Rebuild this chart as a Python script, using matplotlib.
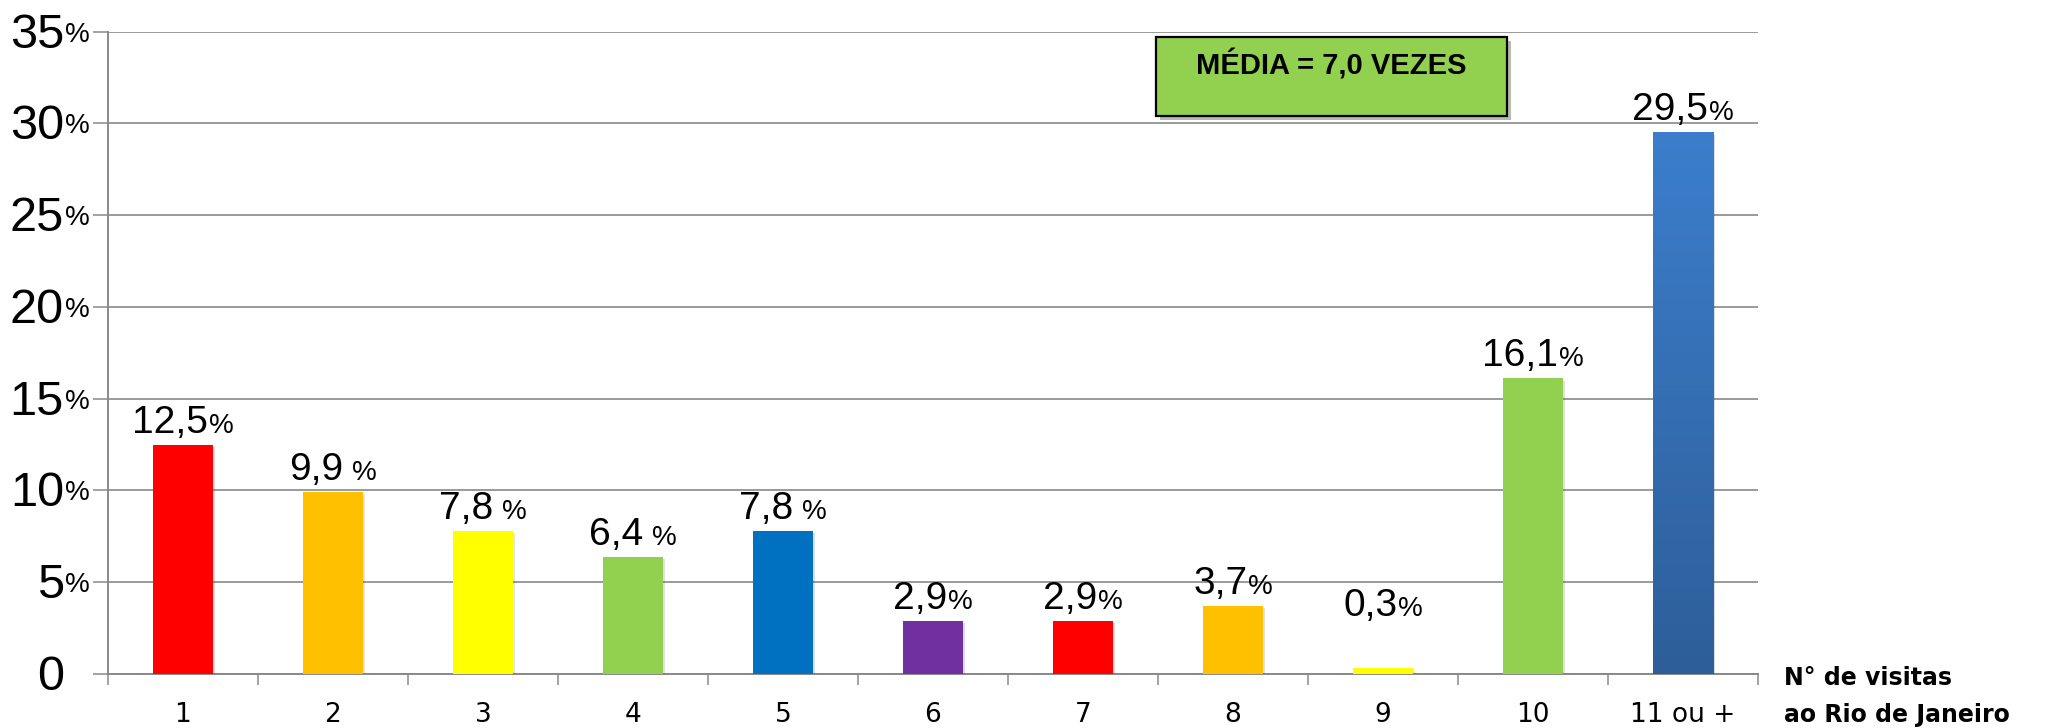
import numpy as np
import matplotlib.pyplot as plt
from matplotlib import patheffects as pe
from matplotlib.patches import Rectangle
from matplotlib.colors import LinearSegmentedColormap

categorias = ["1", "2", "3", "4", "5", "6", "7", "8", "9", "10", "11 ou +"]
percentuais = [12.5, 9.9, 7.8, 6.4, 7.8, 2.9, 2.9, 3.7, 0.3, 16.1, 29.5]
com_espaco = [False, True, True, True, True, False, False, False, False, False, False]
cores = ["#FF0000", "#FFC000", "#FFFF00", "#92D050", "#0070C0", "#7030A0",
         "#FF0000", "#FFC000", "#FFFF00", "#92D050", "#3A7BC8"]
y_ticks = [0, 5, 10, 15, 20, 25, 30, 35]
media_txt = "MÉDIA = 7,0 VEZES"
eixo_x_txt = ["N° de visitas", "ao Rio de Janeiro"]

cinza = "#898989"
fonte_num = "Liberation Sans"

fig = plt.figure(figsize=(20.6, 7.28), dpi=100)
ax = fig.add_axes([0.0524, 0.0742, 0.8010, 0.8825])

x = np.arange(len(categorias))
barras = ax.bar(x, percentuais, width=0.4, color=cores, zorder=3)
for b in barras:
    b.set_path_effects([pe.SimplePatchShadow(offset=(1.5, -1.5), alpha=0.15), pe.Normal()])

# gradiente na ultima barra
ult = barras[-1]
x0, y0 = ult.get_x(), ult.get_y()
w, h = ult.get_width(), ult.get_height()
grad = np.linspace(0, 1, 256).reshape(-1, 1)
cmap = LinearSegmentedColormap.from_list("azul", ["#2D5E99", "#3C7ECC"])
im = ax.imshow(grad, extent=[x0, x0 + w, y0, y0 + h], origin="lower", cmap=cmap,
               aspect="auto", zorder=4)
im.set_clip_path(ult)

ax.set_xlim(-0.5, len(categorias) - 0.5)
ax.set_ylim(0, 35)

# eixos
for s in ["top", "right"]:
    ax.spines[s].set_visible(False)
for s in ["left", "bottom"]:
    ax.spines[s].set_color(cinza)
    ax.spines[s].set_linewidth(1.4)

ax.set_yticks(y_ticks)
ax.set_yticklabels([])
ax.tick_params(axis="y", length=11, width=1.1, color=cinza)
ax.yaxis.grid(True, color=cinza, linewidth=1.2, zorder=0)
ax.set_axisbelow(True)

ax.set_xticks(x)
ax.set_xticklabels(categorias, fontsize=19, family="DejaVu Sans")
ax.set_xticks(np.arange(-0.5, len(categorias)), minor=True)
ax.tick_params(axis="x", which="major", length=0, pad=20)
ax.tick_params(axis="x", which="minor", length=8, width=1.1, color=cinza)

# rotulos do eixo y (numero grande + % pequeno)
ytr = ax.get_yaxis_transform()
for t in y_ticks:
    ax.annotate(str(t), xy=(0, t), xycoords=ytr, xytext=(-44, -16),
                textcoords="offset pixels", ha="right", va="baseline",
                fontsize=35, family=fonte_num, annotation_clip=False)
    if t:
        ax.annotate("%", xy=(0, t), xycoords=ytr, xytext=(-43, -10),
                    textcoords="offset pixels", ha="left", va="baseline",
                    fontsize=20, family=fonte_num, annotation_clip=False)

# rotulos das barras
r = fig.canvas.get_renderer()
for xi, v, esp in zip(x, percentuais, com_espaco):
    num = f"{v:.1f}".replace(".", ",")
    y_lab = max(v, 2.5)
    a1 = ax.annotate(num, xy=(xi, y_lab), xytext=(0, 12), textcoords="offset pixels",
                     ha="left", va="baseline", fontsize=28, family=fonte_num, zorder=5)
    a2 = ax.annotate("%", xy=(xi, y_lab), xytext=(0, 12), textcoords="offset pixels",
                     ha="left", va="baseline", fontsize=20, family=fonte_num, zorder=5)
    w1 = a1.get_window_extent(r).width
    w2 = a2.get_window_extent(r).width
    gap = 9 if esp else 1
    esq = -(w1 + gap + w2) / 2
    a1.xyann = (esq, 12)
    a2.xyann = (esq + w1 + gap, 12)

# caixa da media
caixa = Rectangle((0.5612, 0.8407), 0.1704, 0.1085, transform=fig.transFigure,
                  facecolor="#92D050", edgecolor="black", linewidth=1.6, zorder=10)
caixa.set_path_effects([pe.SimplePatchShadow(offset=(3, -3), alpha=0.35), pe.Normal()])
fig.patches.append(caixa)
fig.text(0.6461, 0.8977, media_txt, ha="center", va="baseline", fontsize=21,
         fontweight="bold", family=fonte_num, zorder=11)

# titulo do eixo x
fig.text(0.866, 0.059, eixo_x_txt[0], ha="left", va="baseline", fontsize=17,
         fontweight="bold", family="DejaVu Sans")
fig.text(0.866, 0.0082, eixo_x_txt[1], ha="left", va="baseline", fontsize=17,
         fontweight="bold", family="DejaVu Sans")

fig.savefig("out.png", dpi=100)
